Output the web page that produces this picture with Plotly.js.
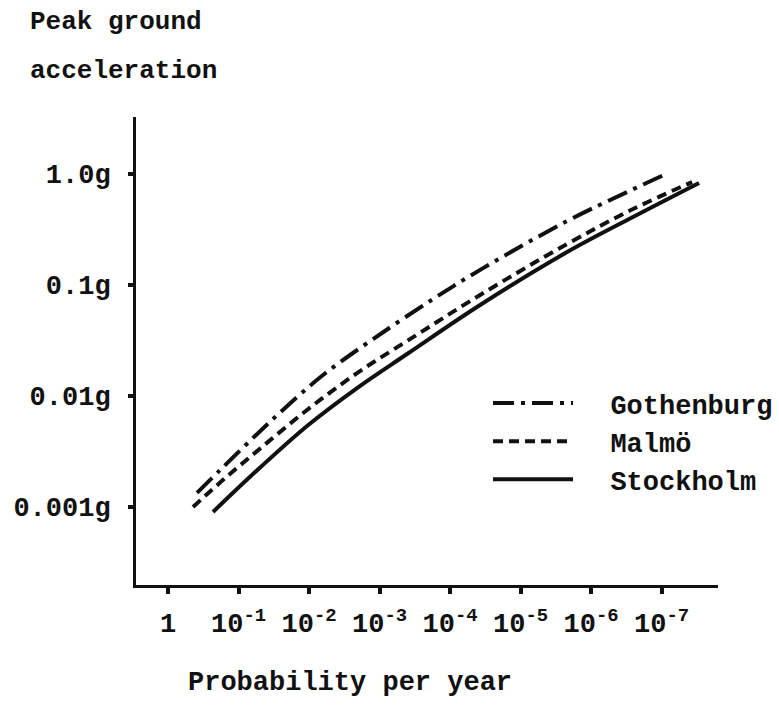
<!DOCTYPE html>
<html>
<head>
<meta charset="utf-8">
<script src="https://cdn.plot.ly/plotly-3.0.1.min.js"></script>
<style>
  html, body { margin: 0; padding: 0; background: #fff; }
  #chart { width: 779px; height: 708px; }
</style>
</head>
<body>
<div id="chart"></div>
<script>
// Probability per year (x) and peak ground acceleration in g (y)
const gothenburgProb = [0.388, 0.183, 0.0583, 0.0219, 0.00633, 0.001236, 1.74e-4, 3.40e-5, 2.19e-6, 3.08e-7, 8.09e-8];
const gothenburgPGA  = [0.00134, 0.00215, 0.00436, 0.00780, 0.01545, 0.0326, 0.0748, 0.142, 0.377, 0.689, 1.02];

const malmoProb = [0.442, 0.155, 0.0465, 0.01067, 0.002084, 4.07e-4, 3.75e-5, 2.19e-6, 2.54e-7, 3.69e-8];
const malmoPGA  = [0.00100, 0.00182, 0.00347, 0.00748, 0.0161, 0.0313, 0.0813, 0.234, 0.484, 0.847];

const stockholmProb = [0.230, 0.0623, 0.01067, 0.002084, 4.07e-4, 3.75e-5, 2.19e-6, 2.54e-7, 2.94e-8];
const stockholmPGA  = [0.000902, 0.00198, 0.00537, 0.0118, 0.0239, 0.0661, 0.198, 0.410, 0.830];

const xTickVals = [1, 1e-1, 1e-2, 1e-3, 1e-4, 1e-5, 1e-6, 1e-7];
const xTickText = ['1', '10<sup>-1</sup>', '10<sup>-2</sup>', '10<sup>-3</sup>', '10<sup>-4</sup>', '10<sup>-5</sup>', '10<sup>-6</sup>', '10<sup>-7</sup>'];
const yTickVals = [1, 0.1, 0.01, 0.001];
const yTickText = ['1.0g', '0.1g', '0.01g', '0.001g'];
const seriesNames = ['Gothenburg', 'Malmö', 'Stockholm'];

const FONT = '"Liberation Mono", "DejaVu Sans Mono", monospace';
const INK = '#111';
const PAD = '\u00a0\u00a0';
const txtFont = { family: FONT, size: 27, color: INK, weight: 'bold' };
const topFont = { family: FONT, size: 26, color: INK, weight: 'bold' };

const traces = [
  { name: PAD + seriesNames[0], x: gothenburgProb, y: gothenburgPGA, mode: 'lines', type: 'scatter',
    line: { color: INK, width: 4, dash: '21px,7px,4px,7px', shape: 'spline', smoothing: 1 } },
  { name: PAD + seriesNames[1], x: malmoProb, y: malmoPGA, mode: 'lines', type: 'scatter',
    line: { color: INK, width: 4, dash: '10px,6px', shape: 'spline', smoothing: 1 } },
  { name: PAD + seriesNames[2], x: stockholmProb, y: stockholmPGA, mode: 'lines', type: 'scatter',
    line: { color: INK, width: 4, shape: 'spline', smoothing: 1 } }
];

const layout = {
  width: 779, height: 708,
  margin: { l: 136, r: 61, t: 117, b: 123, pad: 0, autoexpand: false },
  paper_bgcolor: '#fff', plot_bgcolor: '#fff',
  font: txtFont,
  showlegend: true,
  legend: {
    x: (488 - 136) / 582, xanchor: 'left',
    y: (585 - 379) / 468, yanchor: 'top',
    bgcolor: 'rgba(0,0,0,0)', borderwidth: 0,
    font: txtFont,
    itemwidth: 80, tracegroupgap: 0
  },
  xaxis: {
    type: 'log', range: [0.454, -7.80],
    showline: true, linecolor: INK, linewidth: 3, mirror: false,
    showgrid: false, zeroline: false, automargin: false,
    ticks: 'outside', ticklen: 6, tickwidth: 4, tickcolor: INK,
    tickvals: xTickVals, ticktext: xTickText,
    tickfont: txtFont,
    ticklabelstandoff: 6
  },
  yaxis: {
    type: 'log', range: [-3.703, 0.514],
    showline: true, linecolor: INK, linewidth: 3, mirror: false,
    showgrid: false, zeroline: false, automargin: false,
    ticks: 'outside', ticklen: 5, tickwidth: 4, tickcolor: INK,
    tickvals: yTickVals, ticktext: yTickText,
    tickfont: txtFont,
    ticklabelstandoff: 12
  },
  annotations: [
    { text: 'Peak ground', xref: 'paper', yref: 'paper', x: (28 - 136) / 582, y: (585 - 22) / 468,
      xanchor: 'left', yanchor: 'middle', showarrow: false, font: topFont },
    { text: 'acceleration', xref: 'paper', yref: 'paper', x: (28 - 136) / 582, y: (585 - 71) / 468,
      xanchor: 'left', yanchor: 'middle', showarrow: false, font: topFont },
    { text: 'Probability per year', xref: 'paper', yref: 'paper', x: (186 - 136) / 582, y: (585 - 683) / 468,
      xanchor: 'left', yanchor: 'middle', showarrow: false, font: txtFont }
  ]
};

Plotly.newPlot('chart', traces, layout, { displayModeBar: false, staticPlot: true });
</script>
</body>
</html>
